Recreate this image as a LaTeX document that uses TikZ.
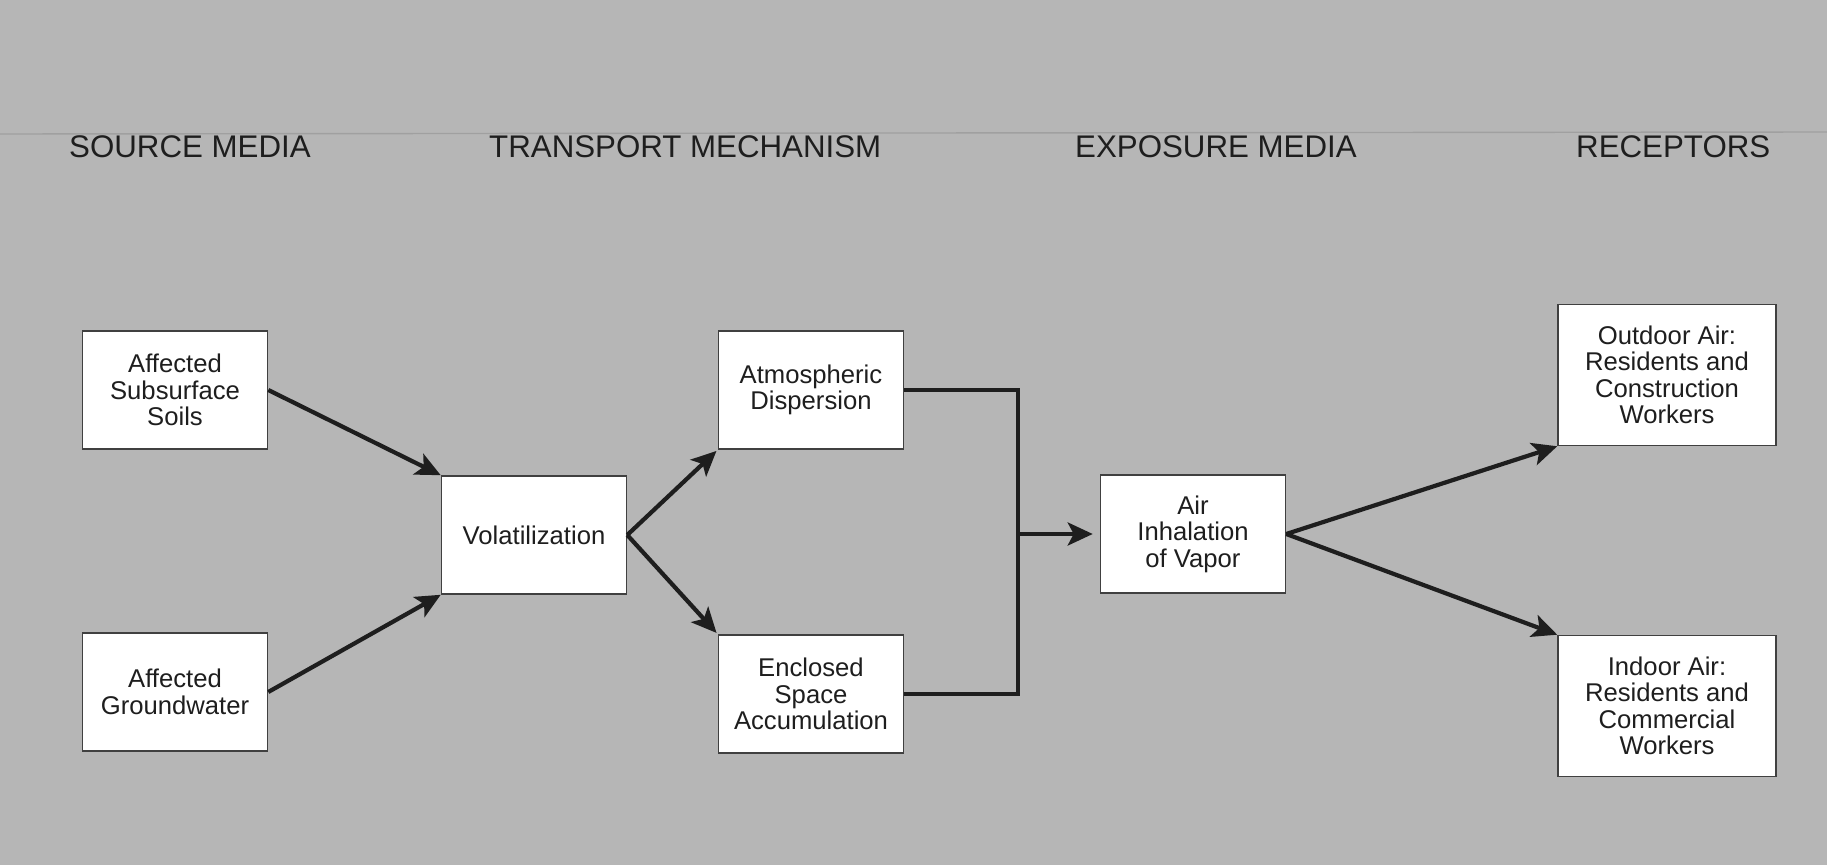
\documentclass[tikz,border=0pt]{standalone}
\usepackage{fontspec}
\setmainfont{Liberation Sans}
\usetikzlibrary{arrows.meta}

\definecolor{paper}{RGB}{182,182,182}
\definecolor{ink}{RGB}{30,30,30}

\tikzset{
  box/.style={draw=ink!85, line width=0.9pt, fill=white, align=center,
    minimum width=3.7cm, minimum height=2.36cm, inner sep=2pt,
    font=\fontsize{14.6}{15.1}\selectfont, text=ink},
  bigbox/.style={box, minimum width=4.36cm, minimum height=2.82cm},
  head/.style={anchor=base west, font=\fontsize{17.8}{20}\selectfont, text=ink},
  link/.style={line width=2.4pt, draw=ink},
  flow/.style={link, -{Stealth[length=0.5cm,width=0.46cm,inset=0.12cm]}},
}

\begin{document}
\begin{tikzpicture}[x=0.02cm, y=-0.02cm]

% background
\fill[paper] (0,0) rectangle (1827,865);
\useasboundingbox (0,0) rectangle (1827,865);
\draw[paper!88!black, line width=0.8pt] (0,134) -- (1827,132);

% headings
\node[head] (hsrc) at (63,158) {SOURCE MEDIA};
\node[head] (htrn) at (483,158) {TRANSPORT MECHANISM};
\node[head] (hexp) at (1069,158) {EXPOSURE MEDIA};
\node[head] (hrec) at (1570,158) {RECEPTORS};

% boxes
\node[box] (soils) at (175,390) {Affected\\Subsurface\\Soils};
\node[box] (ground) at (175,692) {Affected\\Groundwater};
\node[box] (volat) at (534,535) {Volatilization};
\node[box] (atmos) at (811,390) {Atmospheric\\Dispersion};
\node[box] (encl) at (811,694) {Enclosed\\Space\\Accumulation};
\node[box] (inhal) at (1193,534) {Air\\Inhalation\\of Vapor};
\node[bigbox] (outdoor) at (1667,375) {Outdoor Air:\\Residents and\\Construction\\Workers};
\node[bigbox] (indoor) at (1667,706) {Indoor Air:\\Residents and\\Commercial\\Workers};

% arrows
\draw[flow] (soils.east) -- (volat.north west);
\draw[flow] (ground.east) -- (volat.south west);
\draw[flow, shorten >=1pt] (volat.east) -- (atmos.south west);
\draw[flow, shorten >=1pt] (volat.east) -- (encl.north west);

% joining line
\coordinate (join) at (1018,534);
\draw[link] (atmos.east) -- (atmos.east -| join) -- (encl.east -| join) -- (encl.east);
\draw[flow, shorten >=0.14cm] (join) -- (inhal.west);

\draw[flow] (inhal.east) -- (outdoor.south west);
\draw[flow] (inhal.east) -- (indoor.north west);

\end{tikzpicture}
\end{document}
